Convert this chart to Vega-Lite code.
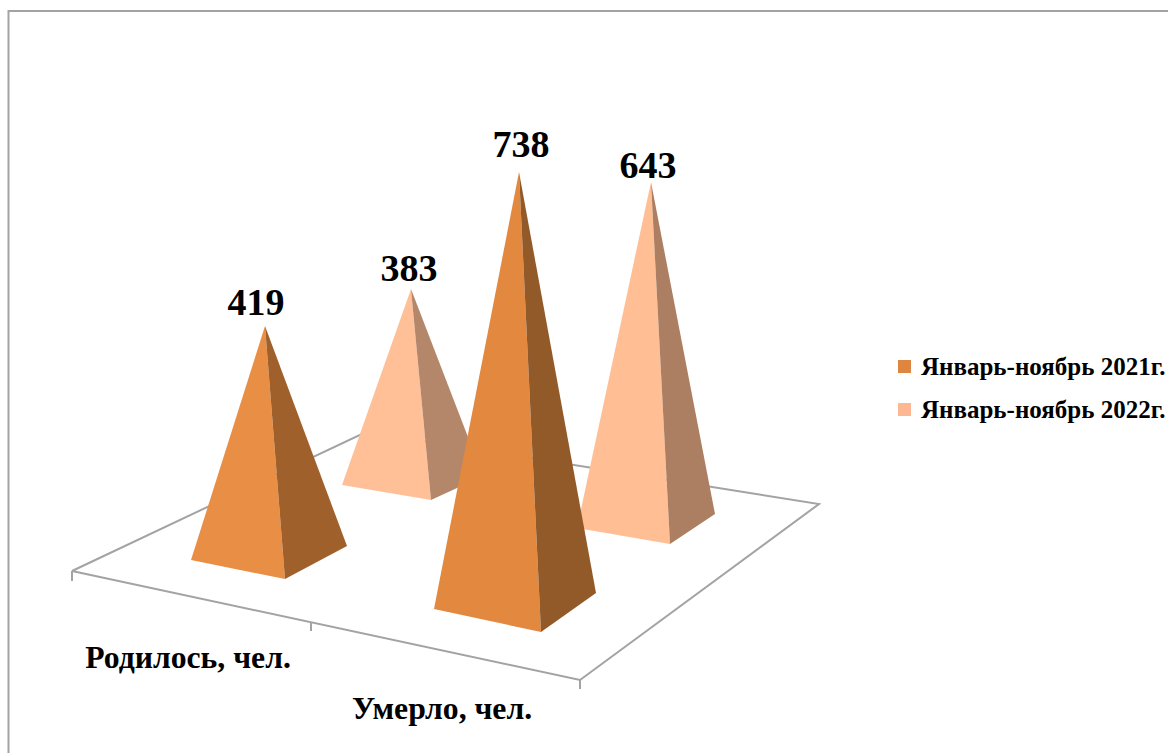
{
"$schema":"https://vega.github.io/schema/vega-lite/v6.json",
"width":1170,"height":755,"padding":0,
"autosize":{"type":"none"},
"background":"white",
"config":{"view":{"stroke":null}},
"datasets":{
"guides":[
{"g":"frame","i":1,"px":8.5,"py":753},{"g":"frame","i":2,"px":8.5,"py":11},{"g":"frame","i":3,"px":1168,"py":11},
{"g":"floor","i":1,"px":72,"py":571},{"g":"floor","i":2,"px":366,"py":432},{"g":"floor","i":3,"px":819,"py":504},{"g":"floor","i":4,"px":580,"py":680},{"g":"floor","i":5,"px":72,"py":571},
{"g":"t1","i":1,"px":72,"py":571},{"g":"t1","i":2,"px":72,"py":581},
{"g":"t2","i":1,"px":311,"py":622},{"g":"t2","i":2,"px":311,"py":631},
{"g":"t3","i":1,"px":580,"py":680},{"g":"t3","i":2,"px":580,"py":689}
],
"faces":[
{"face":"383 front","i":1,"px":411,"py":289},{"face":"383 front","i":2,"px":342,"py":485},{"face":"383 front","i":3,"px":431,"py":500},
{"face":"383 side","i":1,"px":411,"py":289},{"face":"383 side","i":2,"px":431,"py":500},{"face":"383 side","i":3,"px":483,"py":476},
{"face":"643 front","i":1,"px":651,"py":182},{"face":"643 front","i":2,"px":577,"py":528},{"face":"643 front","i":3,"px":670,"py":544},
{"face":"643 side","i":1,"px":651,"py":182},{"face":"643 side","i":2,"px":670,"py":544},{"face":"643 side","i":3,"px":715,"py":514},
{"face":"419 front","i":1,"px":265,"py":326},{"face":"419 front","i":2,"px":191,"py":560},{"face":"419 front","i":3,"px":285,"py":579},
{"face":"419 side","i":1,"px":265,"py":326},{"face":"419 side","i":2,"px":285,"py":579},{"face":"419 side","i":3,"px":347,"py":546},
{"face":"738 front","i":1,"px":519,"py":172},{"face":"738 front","i":2,"px":434,"py":609},{"face":"738 front","i":3,"px":541,"py":632},
{"face":"738 side","i":1,"px":519,"py":172},{"face":"738 side","i":2,"px":541,"py":632},{"face":"738 side","i":3,"px":596,"py":593}
],
"values":[
{"metric":"Родилось, чел.","period":"Январь-ноябрь 2021г.","value":419,"px":256,"py":315},
{"metric":"Родилось, чел.","period":"Январь-ноябрь 2022г.","value":383,"px":409,"py":281},
{"metric":"Умерло, чел.","period":"Январь-ноябрь 2021г.","value":738,"px":521,"py":157},
{"metric":"Умерло, чел.","period":"Январь-ноябрь 2022г.","value":643,"px":648,"py":178}
],
"categories":[
{"metric":"Родилось, чел.","px":188,"py":668},
{"metric":"Умерло, чел.","px":442,"py":719}
]
},
"data":{"name":"faces"},
"layer":[
{"data":{"name":"guides"},
 "mark":{"type":"line","stroke":"#A3A3A3","strokeWidth":2,"interpolate":"linear"},
 "encoding":{
  "x":{"field":"px","type":"quantitative","scale":{"domain":[0,1170]},"axis":null},
  "y":{"field":"py","type":"quantitative","scale":{"domain":[755,0]},"axis":null},
  "detail":{"field":"g"},
  "order":{"field":"i"}}},
{"data":{"name":"faces"},
 "mark":{"type":"line","strokeWidth":0},
 "encoding":{
  "x":{"field":"px","type":"quantitative","scale":{"domain":[0,1170]},"axis":null},
  "y":{"field":"py","type":"quantitative","scale":{"domain":[755,0]},"axis":null},
  "fill":{"field":"face","type":"nominal","legend":null,
    "scale":{"domain":["383 front","383 side","643 front","643 side","419 front","419 side","738 front","738 side"],
             "range":["#FFC097","#B4866A","#FFBE94","#AD7F62","#E98F45","#A0602B","#E3883F","#925A29"]}},
  "order":{"field":"i"}}},
{"data":{"name":"values"},
 "mark":{"type":"point","filled":true,"size":0},
 "encoding":{
  "x":{"field":"px","type":"quantitative","scale":{"domain":[0,1170]},"axis":null},
  "y":{"field":"py","type":"quantitative","scale":{"domain":[755,0]},"axis":null},
  "color":{"field":"period","type":"nominal",
    "scale":{"domain":["Январь-ноябрь 2021г.","Январь-ноябрь 2022г."],"range":["#DE8540","#FDB793"]},
    "legend":{"orient":"none","legendX":892,"legendY":354,"title":null,"symbolType":"square","symbolSize":169,"symbolStrokeWidth":0,"symbolOpacity":1,"labelFont":"Liberation Serif","labelFontWeight":"bold","labelFontSize":25,"labelColor":"#000000","labelOffset":4,"rowPadding":17,"labelLimit":300}}
 }},
{"data":{"name":"values"},
 "mark":{"type":"text","font":"Liberation Serif","fontWeight":"bold","fontSize":38,"color":"#000000","align":"center","baseline":"alphabetic"},
 "encoding":{
  "x":{"field":"px","type":"quantitative","scale":{"domain":[0,1170]},"axis":null},
  "y":{"field":"py","type":"quantitative","scale":{"domain":[755,0]},"axis":null},
  "text":{"field":"value","type":"quantitative"}
 }},
{"data":{"name":"categories"},
 "mark":{"type":"text","font":"Liberation Serif","fontWeight":"bold","fontSize":31.7,"color":"#000000","align":"center","baseline":"alphabetic"},
 "encoding":{
  "x":{"field":"px","type":"quantitative","scale":{"domain":[0,1170]},"axis":null},
  "y":{"field":"py","type":"quantitative","scale":{"domain":[755,0]},"axis":null},
  "text":{"field":"metric","type":"nominal"}}}
]
}
